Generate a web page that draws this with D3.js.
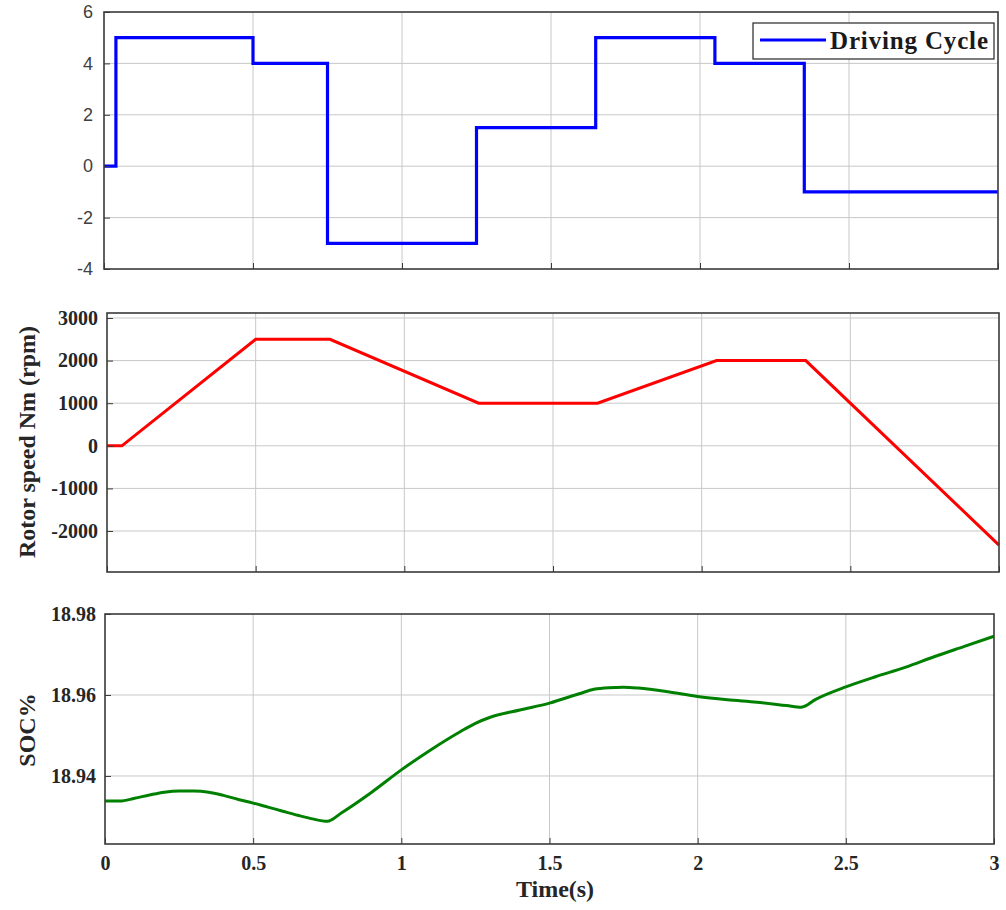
<!DOCTYPE html>
<html>
<head>
<meta charset="utf-8">
<script src="https://cdn.jsdelivr.net/npm/d3@7"></script>
<style>
  body { margin: 0; background: #fff; }
  .grid line { stroke: #c8c8c8; stroke-width: 1; }
  .frame { fill: none; stroke: #3a3a3a; stroke-width: 1.6; }
</style>
</head>
<body>
<div id="chart"></div>
<script>
// Driving cycle (torque command), step values
var driveTimes  = [0, 0.04, 0.5, 0.75, 1.25, 1.65, 2.05, 2.35, 3];
var driveValues = [0, 5, 4, -3, 1.5, 5, 4, -1, -1];

// Rotor speed (rpm)
var speedTimes  = [0, 0.05, 0.5, 0.75, 1.25, 1.65, 2.05, 2.35, 3];
var speedValues = [0, 0, 2500, 2500, 1000, 1000, 2000, 2000, -2330];

// State of charge (%)
var socTimes  = [0, 0.05, 0.1, 0.15, 0.2, 0.25, 0.3, 0.35, 0.4, 0.45, 0.5, 0.55, 0.6, 0.65, 0.7, 0.75,
                 0.8, 0.9, 1.0, 1.1, 1.2, 1.25, 1.3, 1.4, 1.5, 1.6, 1.65, 1.7, 1.75, 1.8, 1.9, 2.0,
                 2.1, 2.2, 2.3, 2.35, 2.4, 2.5, 2.6, 2.7, 2.8, 2.9, 3.0];
var socValues = [18.9338, 18.9338, 18.9345, 18.9353, 18.9360, 18.9363, 18.9363, 18.9360, 18.9352, 18.9342,
                 18.9333, 18.9323, 18.9313, 18.9303, 18.9294, 18.9288, 18.9310, 18.9360, 18.9415, 18.9465,
                 18.9510, 18.9530, 18.9545, 18.9563, 18.9580, 18.9603, 18.9614, 18.9618, 18.9619, 18.9617,
                 18.9608, 18.9596, 18.9588, 18.9582, 18.9574, 18.9570, 18.9590, 18.9620, 18.9645, 18.9668,
                 18.9695, 18.9720, 18.9745];

var xTicks = [0, 0.5, 1, 1.5, 2, 2.5, 3];
var driveTicks = [-4, -2, 0, 2, 4, 6];
var speedTicks = [-2000, -1000, 0, 1000, 2000, 3000];
var socTicks = [18.94, 18.96, 18.98];

var W = 1006, H = 910;
var svg = d3.select("#chart").append("svg")
    .attr("width", W)
    .attr("height", H);

var serif = "'Liberation Serif', 'Times New Roman', serif";
var sans = "'Liberation Sans', Arial, sans-serif";

function drawPanel(opt) {
    var x = d3.scaleLinear().domain([0, 3]).range([opt.left, opt.right]);
    var y = d3.scaleLinear().domain(opt.yDomain).range([opt.bottom, opt.top]);
    var g = svg.append("g");

    // grid
    var grid = g.append("g").attr("class", "grid");
    grid.selectAll(".gx").data(xTicks.slice(1, -1)).enter().append("line")
        .attr("x1", d => x(d)).attr("x2", d => x(d))
        .attr("y1", opt.top).attr("y2", opt.bottom);
    grid.selectAll(".gy").data(opt.yTicks.filter(t => y(t) > opt.top + 1 && y(t) < opt.bottom - 1)).enter().append("line")
        .attr("x1", opt.left).attr("x2", opt.right)
        .attr("y1", d => y(d)).attr("y2", d => y(d));

    // data line
    var pts = opt.times.map((t, i) => [t, opt.values[i]]);
    var line = d3.line()
        .x(d => x(d[0]))
        .y(d => y(d[1]))
        .curve(opt.curve);
    g.append("path")
        .datum(pts)
        .attr("fill", "none")
        .attr("stroke", opt.color)
        .attr("stroke-width", opt.lineWidth)
        .attr("stroke-linejoin", "miter")
        .attr("d", line);

    // axes (ticks inward, box)
    var yAxis = d3.axisLeft(y).tickValues(opt.yTicks).tickSize(-6).tickPadding(opt.yPad)
        .tickFormat(opt.yFormat);
    var gy = g.append("g").attr("transform", "translate(" + opt.left + ",0)").call(yAxis);
    gy.select(".domain").remove();
    gy.selectAll(".tick line").attr("stroke", "#3a3a3a");
    gy.selectAll("text")
        .style("font-family", opt.fontFamily)
        .style("font-weight", opt.fontWeight)
        .style("font-size", opt.fontSize + "px")
        .attr("fill", opt.textColor);

    var xAxis = d3.axisBottom(x).tickValues(xTicks).tickSize(-6).tickPadding(12)
        .tickFormat(d => String(d));
    var gx = g.append("g").attr("transform", "translate(0," + opt.bottom + ")").call(xAxis);
    gx.select(".domain").remove();
    gx.selectAll(".tick line").attr("stroke", "#3a3a3a");
    gx.selectAll("text")
        .style("font-family", serif)
        .style("font-weight", "bold")
        .style("font-size", "20px")
        .attr("fill", "#262626")
        .style("display", opt.showX ? null : "none");

    g.append("rect").attr("class", "frame")
        .attr("x", opt.left).attr("y", opt.top)
        .attr("width", opt.right - opt.left)
        .attr("height", opt.bottom - opt.top);

    if (opt.yLabel) {
        g.append("text")
            .attr("transform", "translate(" + opt.labelX + "," + opt.labelY + ") rotate(-90)")
            .attr("text-anchor", "middle")
            .style("font-family", serif)
            .style("font-weight", "bold")
            .style("font-size", "24px")
            .attr("fill", "#262626")
            .text(opt.yLabel);
    }
    return {x: x, y: y, g: g};
}

// Top panel: driving cycle
var p1 = drawPanel({
    left: 104, right: 998, top: 12, bottom: 269,
    yDomain: [-4, 6], yTicks: driveTicks, yFormat: d => String(d), yPad: 11,
    times: driveTimes, values: driveValues, curve: d3.curveStepAfter,
    color: "#0000ff", lineWidth: 3.2,
    fontFamily: sans, fontWeight: "normal", fontSize: 18, textColor: "#404040",
    showX: false
});

// legend
var lg = p1.g.append("g");
lg.append("rect")
    .attr("x", 753).attr("y", 23).attr("width", 241).attr("height", 36)
    .attr("fill", "#fff").attr("stroke", "#262626").attr("stroke-width", 1.2);
lg.append("line")
    .attr("x1", 760).attr("x2", 826).attr("y1", 40).attr("y2", 40)
    .attr("stroke", "#0000ff").attr("stroke-width", 3.2);
lg.append("text")
    .attr("x", 830).attr("y", 49)
    .attr("textLength", 158)
    .style("font-family", serif).style("font-weight", "bold").style("font-size", "25px")
    .attr("fill", "#1a1a1a")
    .text("Driving Cycle");

// Middle panel: rotor speed
drawPanel({
    left: 107, right: 999, top: 313, bottom: 572,
    yDomain: [-2962, 3117], yTicks: speedTicks, yFormat: d => String(d), yPad: 9,
    times: speedTimes, values: speedValues, curve: d3.curveLinear,
    color: "#ff0000", lineWidth: 3,
    fontFamily: serif, fontWeight: "bold", fontSize: 20, textColor: "#262626",
    showX: false, yLabel: "Rotor speed Nm (rpm)", labelX: 35, labelY: 442
});

// Bottom panel: SOC
drawPanel({
    left: 105, right: 994, top: 614, bottom: 844,
    yDomain: [18.9232, 18.98], yTicks: socTicks, yFormat: d3.format(".2f"), yPad: 9,
    times: socTimes, values: socValues, curve: d3.curveMonotoneX,
    color: "#008000", lineWidth: 3,
    fontFamily: serif, fontWeight: "bold", fontSize: 20, textColor: "#262626",
    showX: true, yLabel: "SOC%", labelX: 35, labelY: 730
});

svg.append("text")
    .attr("x", 555).attr("y", 897)
    .attr("text-anchor", "middle")
    .style("font-family", serif).style("font-weight", "bold").style("font-size", "24px")
    .attr("fill", "#262626")
    .text("Time(s)");
</script>
</body>
</html>
